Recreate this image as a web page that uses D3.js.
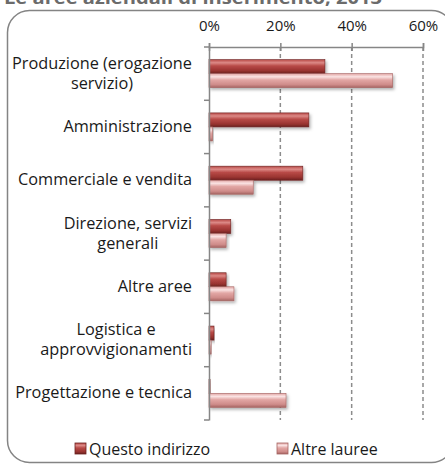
<!DOCTYPE html>
<html>
<head>
<meta charset="utf-8">
<script src="https://cdn.jsdelivr.net/npm/d3@7"></script>
<style>
  body { margin: 0; background: #fff; }
  svg { display: block; font-family: "Open Sans", "Noto Sans", sans-serif; }
</style>
</head>
<body>
<div id="container"></div>
<script>
/* CONSTANTS AND GLOBALS */
const width = 445;
const height = 466;
const margin = { top: 47, bottom: 46, left: 209, right: 22 };

/* DATA */
const titleText = "Le aree aziendali di inserimento, 2013";
const categories = [
  ["Produzione (erogazione", "servizio)"],
  ["Amministrazione"],
  ["Commerciale e vendita"],
  ["Direzione, servizi", "generali"],
  ["Altre aree"],
  ["Logistica e", "approvvigionamenti"],
  ["Progettazione e tecnica"]
];
const seriesNames = ["Questo indirizzo", "Altre lauree"];
const questoValues = [32.5, 28.0, 26.3, 6.1, 4.8, 1.4, 0.3];
const altreValues = [51.5, 1.0, 12.4, 4.8, 7.0, 0.6, 21.6];
const xTicks = [0, 20, 40, 60];

const catKeys = categories.map(d => d.join(" "));
const rows = catKeys.map((k, i) => ({ key: k, lines: categories[i], values: [questoValues[i], altreValues[i]] }));

const svg = d3.select("#container").append("svg")
  .attr("width", width)
  .attr("height", height);

/* GRADIENTS */
const defs = svg.append("defs");
const palettes = [
  ["#dc8986", "#b84a47", "#9a3431", "#6c2220"],
  ["#fae3e3", "#e2a6a4", "#cf8c8a", "#a56462"]
];
palettes.forEach((p, i) => {
  const g = defs.append("linearGradient").attr("id", "grad" + i)
    .attr("x1", 0).attr("y1", 0).attr("x2", 0).attr("y2", 1);
  g.append("stop").attr("offset", "0%").attr("stop-color", p[1]);
  g.append("stop").attr("offset", "22%").attr("stop-color", p[0]);
  g.append("stop").attr("offset", "45%").attr("stop-color", p[1]);
  g.append("stop").attr("offset", "78%").attr("stop-color", p[2]);
  g.append("stop").attr("offset", "100%").attr("stop-color", p[3]);
});
defs.append("filter").attr("id", "shadow")
  .attr("x", "-10%").attr("y", "-20%").attr("width", "130%").attr("height", "160%")
  .append("feDropShadow")
  .attr("dx", 1.5).attr("dy", 2).attr("stdDeviation", 1.5)
  .attr("flood-color", "#000").attr("flood-opacity", 0.3);

/* TITLE (cut at the top) */
svg.append("text")
  .attr("x", 4)
  .attr("y", 4)
  .attr("font-size", 18)
  .attr("font-weight", "bold")
  .attr("fill", "#6b6b6b")
  .attr("textLength", 378)
  .attr("lengthAdjust", "spacingAndGlyphs")
  .text(titleText);

/* FRAME */
svg.append("rect")
  .attr("x", 7.5).attr("y", 10.5)
  .attr("width", 446).attr("height", 452)
  .attr("rx", 22).attr("ry", 22)
  .attr("fill", "none")
  .attr("stroke", "#848484")
  .attr("stroke-width", 1.5);

/* SCALES */
const xScale = d3.scaleLinear()
  .domain([0, 60])
  .range([margin.left, width - margin.right]);

const yScale = d3.scaleBand()
  .domain(catKeys)
  .range([margin.top, height - margin.bottom]);

const ySub = d3.scaleBand()
  .domain(seriesNames)
  .range([0, yScale.bandwidth()])
  .paddingOuter(0.9);

/* GRID */
svg.append("g")
  .selectAll("line")
  .data(xTicks.filter(d => d > 0))
  .join("line")
  .attr("x1", d => xScale(d)).attr("x2", d => xScale(d))
  .attr("y1", margin.top).attr("y2", height - margin.bottom)
  .attr("stroke", "#8c8c8c")
  .attr("stroke-width", 1.5)
  .attr("stroke-dasharray", "4,3");

/* BARS */
const group = svg.append("g")
  .selectAll("g")
  .data(rows)
  .join("g")
  .attr("transform", d => `translate(0,${yScale(d.key)})`);

group.selectAll("rect")
  .data(d => d.values.map((v, i) => ({ name: seriesNames[i], value: v, i })))
  .join("rect")
  .attr("x", xScale(0))
  .attr("y", d => ySub(d.name))
  .attr("width", d => xScale(d.value) - xScale(0))
  .attr("height", ySub.bandwidth())
  .attr("fill", d => `url(#grad${d.i})`)
  .attr("stroke", d => palettes[d.i][3])
  .attr("stroke-width", 0.6)
  .attr("filter", "url(#shadow)");

/* AXES */
const xAxis = svg.append("g")
  .attr("transform", `translate(0,${margin.top})`)
  .call(d3.axisTop(xScale).tickValues(xTicks).tickSize(4).tickFormat(d => d + "%"));
xAxis.select(".domain").attr("stroke", "#868686").attr("stroke-width", 1.5);
xAxis.selectAll(".tick line").attr("stroke", "#868686").attr("stroke-width", 1.5)
  .attr("y1", -4).attr("y2", 4);
xAxis.selectAll(".tick text")
  .attr("y", -16)
  .attr("font-size", 15)
  .attr("font-family", "'Open Sans', sans-serif")
  .attr("fill", "#1a1a1a");

const yAxis = svg.append("g")
  .attr("transform", `translate(${margin.left},0)`)
  .call(d3.axisLeft(yScale).tickValues([]).tickSizeOuter(0));
yAxis.select(".domain").attr("stroke", "#868686").attr("stroke-width", 1.5);

svg.append("g")
  .selectAll("line")
  .data(catKeys.map(k => yScale(k)).concat([height - margin.bottom]))
  .join("line")
  .attr("x1", margin.left - 5).attr("x2", margin.left)
  .attr("y1", d => d).attr("y2", d => d)
  .attr("stroke", "#868686").attr("stroke-width", 1.5);

/* CATEGORY LABELS */
const labelRight = 192;
const labels = svg.append("g")
  .selectAll("text")
  .data(rows)
  .join("text")
  .attr("font-size", 16.3)
  .attr("fill", "#1a1a1a");

labels.each(function(d) {
  const t = d3.select(this);
  const cy = yScale(d.key) + yScale.bandwidth() / 2;
  const n = d.lines.length;
  d.lines.forEach((line, j) => {
    t.append("tspan")
      .attr("y", cy + (j - (n - 1) / 2) * 20 + 5)
      .text(line);
  });
  const maxW = d3.max(t.selectAll("tspan").nodes(), nd => nd.getComputedTextLength());
  t.selectAll("tspan")
    .attr("x", labelRight - maxW / 2)
    .attr("text-anchor", "middle");
});

/* LEGEND */
const legendX = [75, 277];
const legend = svg.append("g")
  .selectAll("g")
  .data(seriesNames)
  .join("g")
  .attr("transform", (d, i) => `translate(${legendX[i]},443)`);

legend.append("rect")
  .attr("width", 11).attr("height", 11)
  .attr("fill", (d, i) => `url(#grad${i})`)
  .attr("stroke", (d, i) => palettes[i][3])
  .attr("stroke-width", 0.8);

legend.append("text")
  .attr("x", 14)
  .attr("y", 11.5)
  .attr("font-size", 16)
  .attr("fill", "#1a1a1a")
  .text(d => d);
</script>
</body>
</html>
